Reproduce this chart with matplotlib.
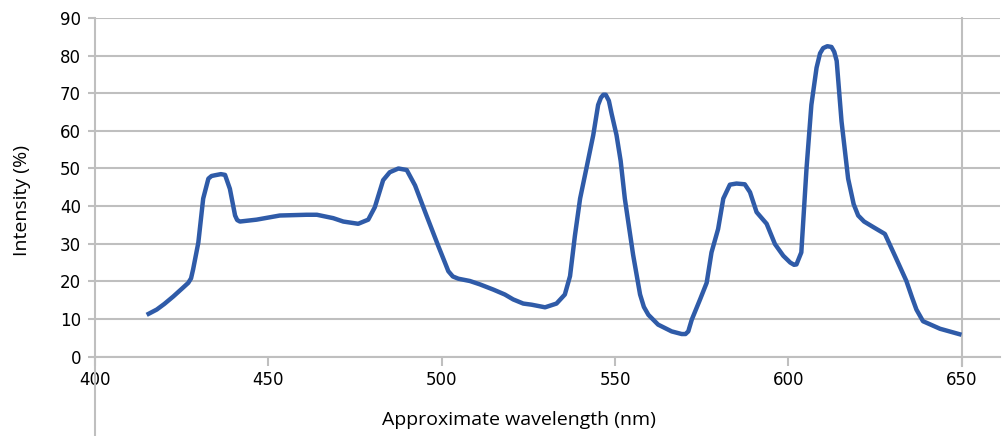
import numpy as np
import matplotlib
matplotlib.use("Agg")
import matplotlib.pyplot as plt

# spectrum
wavelength = [414.9, 417.8, 420.0, 422.6, 425.0, 426.9, 427.7, 428.3, 429.8, 431.2,
              432.7, 433.6, 434.6, 436.3, 437.5, 438.9, 440.4, 441.0, 441.8, 446.6,
              453.3, 461.0, 464.0, 468.7, 471.6, 475.9, 478.8, 480.7, 483.1, 485.0,
              487.5, 489.9, 492.3, 495.6, 499.0, 501.0, 501.9, 503.2, 504.8, 508.1,
              511.0, 514.9, 518.2, 520.6, 523.5, 525.9, 529.8, 533.1, 535.5, 537.0,
              538.4, 539.9, 541.8, 543.7, 545.1, 545.9, 546.6, 547.3, 548.2, 549.0,
              550.4, 551.6, 552.8, 555.2, 557.2, 558.3, 559.6, 562.4, 566.3, 569.2,
              570.3, 571.1, 572.1, 574.5, 576.4, 577.8, 579.7, 581.2, 583.1, 585.0,
              587.4, 588.9, 590.8, 593.7, 596.1, 598.5, 600.5, 601.6, 602.3, 603.7,
              605.2, 606.6, 608.1, 609.1, 610.0, 611.2, 612.4, 613.2, 613.9, 615.3,
              617.2, 618.8, 620.1, 621.8, 624.5, 627.8, 630.7, 634.0, 635.6, 636.9,
              638.8, 643.7, 649.9]
intensity = [11.1, 12.5, 14.0, 16.0, 18.0, 19.6, 20.8, 23.2, 30.3, 42.0,
             47.3, 48.0, 48.2, 48.5, 48.3, 44.6, 37.5, 36.3, 35.9, 36.4,
             37.5, 37.7, 37.7, 36.8, 35.9, 35.3, 36.4, 39.7, 46.9, 49.0,
             50.0, 49.6, 45.5, 37.5, 29.4, 24.8, 22.7, 21.3, 20.7, 20.1,
             19.2, 17.8, 16.5, 15.2, 14.1, 13.8, 13.1, 14.1, 16.5, 21.4,
             32.1, 42.0, 50.4, 58.9, 66.9, 68.8, 69.6, 69.6, 68.0, 64.5,
             58.9, 52.0, 42.0, 27.0, 16.5, 13.2, 11.1, 8.5, 6.7, 6.0,
             6.0, 6.7, 9.8, 15.2, 19.6, 27.7, 33.9, 42.0, 45.7, 46.0,
             45.8, 43.7, 38.4, 35.3, 29.9, 26.8, 25.0, 24.4, 24.5, 27.7,
             50.0, 66.9, 76.8, 80.6, 82.0, 82.5, 82.3, 81.0, 78.6, 62.5,
             47.3, 40.5, 37.5, 35.9, 34.4, 32.6, 26.8, 20.1, 15.8, 12.5,
             9.4, 7.4, 5.8]
x_ticks = [400, 450, 500, 550, 600, 650]
y_ticks = [0, 10, 20, 30, 40, 50, 60, 70, 80, 90]

grid_c = "#bfbfbf"
line_c = "#2f5ba8"

fig = plt.figure(figsize=(10.07, 4.36), dpi=100)
ax = fig.add_axes([95 / 1007, 1 - 356.6 / 436, 905 / 1007, (356.6 - 18) / 436])

ax.plot(wavelength, intensity, color=line_c, lw=3.2, solid_joinstyle="round",
        solid_capstyle="butt", zorder=3)

ax.set_xlim(400, 661)
ax.set_ylim(0, 90)
ax.set_xticks(x_ticks)
ax.set_yticks(y_ticks)
ax.yaxis.grid(True, color=grid_c, lw=1.5)
ax.set_axisbelow(True)
ax.axvline(650, ymin=-9.5 / 338.6, ymax=1, color=grid_c, lw=1.5, clip_on=False)

for s in ["top", "right"]:
    ax.spines[s].set_visible(False)
ax.spines["bottom"].set_color(grid_c)
ax.spines["bottom"].set_linewidth(1.5)
ax.spines["left"].set_visible(False)
# y axis line runs down to the bottom edge of the figure
ax.plot([0, 0], [1, -80 / 338.6], transform=ax.transAxes, color=grid_c, lw=1.5, clip_on=False)

ax.tick_params(axis="both", colors=grid_c, width=1.5, labelcolor="black", labelsize=12)
ax.tick_params(axis="y", length=5, pad=5)
ax.tick_params(axis="x", length=6.5, pad=4)

fig.text(519 / 1007, 1 - 420 / 436, "Approximate wavelength (nm)", ha="center", va="center",
         fontsize=14, family="Open Sans")
fig.text(22 / 1007, 1 - 200 / 436, "Intensity (%)", ha="center", va="center",
         rotation=90, fontsize=14, family="Open Sans")

fig.savefig("out.png", dpi=100)
